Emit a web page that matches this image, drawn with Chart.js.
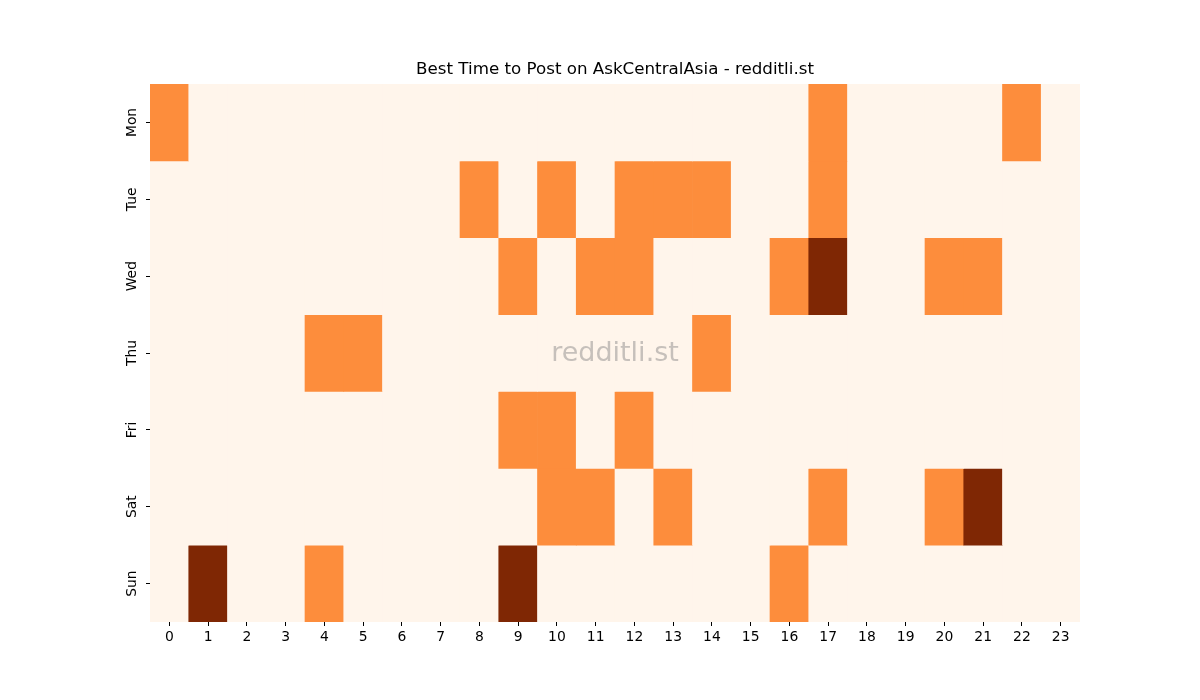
<!DOCTYPE html>
<html>
<head>
<meta charset="utf-8">
<script src="https://cdn.jsdelivr.net/npm/chart.js@4/dist/chart.umd.min.js"></script>
<style>
  body { margin: 0; background: #ffffff; }
</style>
</head>
<body>
<canvas id="heatmap" width="1200" height="700"></canvas>
<script>
// hours along the bottom, days down the side
const hours = ['0','1','2','3','4','5','6','7','8','9','10','11','12','13','14','15','16','17','18','19','20','21','22','23'];
const days = ['Mon', 'Tue', 'Wed', 'Thu', 'Fri', 'Sat', 'Sun'];

// activity level per hour, 0 = low, 1 = medium, 2 = high
const mon = [1,0,0,0,0,0,0,0,0,0,0,0,0,0,0,0,0,1,0,0,0,0,1,0];
const tue = [0,0,0,0,0,0,0,0,1,0,1,0,1,1,1,0,0,1,0,0,0,0,0,0];
const wed = [0,0,0,0,0,0,0,0,0,1,0,1,1,0,0,0,1,2,0,0,1,1,0,0];
const thu = [0,0,0,0,1,1,0,0,0,0,0,0,0,0,1,0,0,0,0,0,0,0,0,0];
const fri = [0,0,0,0,0,0,0,0,0,1,1,0,1,0,0,0,0,0,0,0,0,0,0,0];
const sat = [0,0,0,0,0,0,0,0,0,0,1,1,0,1,0,0,0,1,0,0,1,2,0,0];
const sun = [0,2,0,0,1,0,0,0,0,2,0,0,0,0,0,0,1,0,0,0,0,0,0,0];
const rows = [mon, tue, wed, thu, fri, sat, sun];

// Oranges colormap, three levels
const levelColors = ['#fff5eb', '#fd8d3c', '#7f2704'];

const datasets = rows.map((row, i) => ({
    label: days[i],
    data: row.map(() => 1),          // every cell is one row tall
    backgroundColor: row.map(v => levelColors[v]),
    borderWidth: 0,
    borderSkipped: false,
    barPercentage: 1,
    categoryPercentage: 1
}));

// faint watermark in the middle of the plot
const watermark = {
    id: 'watermark',
    afterDatasetsDraw(chart) {
        const { ctx, chartArea } = chart;
        ctx.save();
        ctx.font = '27px "DejaVu Sans"';
        ctx.fillStyle = 'rgba(128, 128, 128, 0.45)';
        ctx.textAlign = 'center';
        ctx.textBaseline = 'middle';
        ctx.fillText('redditli.st', (chartArea.left + chartArea.right) / 2, (chartArea.top + chartArea.bottom) / 2 + 1);
        ctx.restore();
    }
};

new Chart(document.getElementById('heatmap'), {
    type: 'bar',
    data: { labels: hours, datasets: datasets },
    plugins: [watermark],
    options: {
        responsive: false,
        animation: false,
        events: [],
        layout: { padding: { top: 0, right: 120, bottom: 0, left: 0 } },
        plugins: {
            legend: { display: false },
            tooltip: { enabled: false },
            title: {
                display: true,
                fullSize: false,   // centre over the plot, not the canvas
                text: 'Best Time to Post on AskCentralAsia - redditli.st',
                color: '#000000',
                font: { family: 'DejaVu Sans', size: 16.7, weight: 'normal', lineHeight: 1.2 },
                padding: { top: 60, bottom: 4 }
            }
        },
        scales: {
            x: {
                stacked: true,
                border: { display: false },
                grid: { drawOnChartArea: false, drawTicks: true, tickLength: 4, color: '#000000', offset: false },
                ticks: { color: '#000000', font: { family: 'DejaVu Sans', size: 13.9 }, padding: 3, maxRotation: 0, autoSkip: false },
                afterFit(scale) { scale.height = 78; }
            },
            y: {
                type: 'linear',
                stacked: true,
                reverse: true,
                min: 0,
                max: 7,
                border: { display: false },
                grid: { drawOnChartArea: false, drawTicks: true, tickLength: 4, color: '#000000' },
                afterBuildTicks(scale) {
                    scale.ticks = days.map((d, i) => ({ value: i + 0.5 }));
                },
                ticks: {
                    color: '#000000',
                    font: { family: 'DejaVu Sans', size: 13.9 },
                    minRotation: 90,
                    maxRotation: 90,
                    crossAlign: 'center',
                    padding: -2,
                    callback: (value, index) => days[index]
                },
                afterFit(scale) { scale.width = 150; }
            }
        }
    }
});
</script>
</body>
</html>
